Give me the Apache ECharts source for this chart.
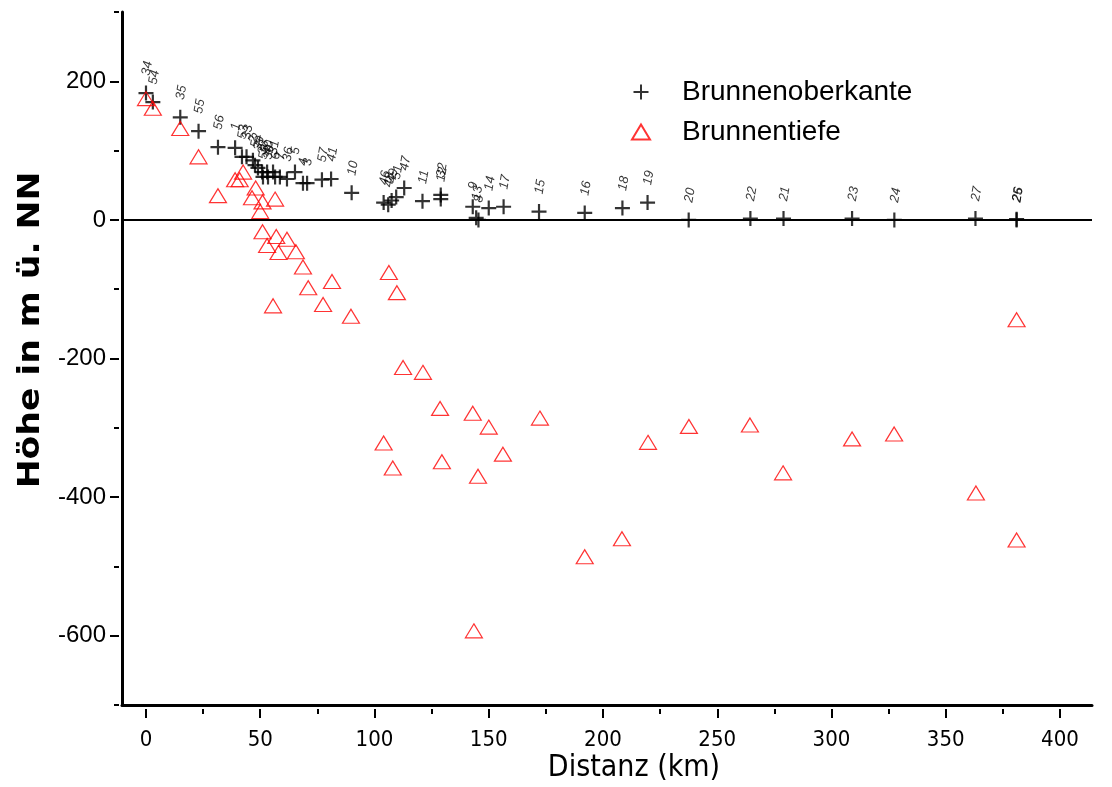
<!DOCTYPE html>
<html>
<head>
<meta charset="utf-8">
<script src="https://cdn.jsdelivr.net/npm/echarts@6/dist/echarts.min.js"></script>
<style>
html,body{margin:0;padding:0;background:#fff;}
#chart{width:1112px;height:787px;}
</style>
</head>
<body>
<div id="chart"></div>
<script>
// Brunnenoberkante (well top): distance km, height m, well number
const topX = [0, 3, 15, 23, 31.5, 39, 42, 44, 46.8, 47.7, 49, 50.8, 51.2, 53, 53.4, 55.6, 56.5, 58.6, 61.7, 65.2, 68.7, 70.5, 77, 81, 90, 104, 106, 107.5, 109.5, 113, 121, 129, 129, 143, 144.5, 145.5, 150, 156.5, 172, 192, 208.5, 219.5, 237.5, 264.5, 279, 309, 327.5, 363, 381, 381];
const topY = [183, 170, 148, 128, 105, 104, 91, 91, 86, 79, 75, 69, 62, 69, 62, 69, 62, 62, 59, 69, 53, 53, 58, 59, 39, 25, 22, 28, 33, 46, 27, 36, 30, 19, 3, 0, 17, 19, 12, 10, 17, 25, 0, 2, 2, 2, 0, 2, 0, 1];
const topLabels = ['34', '54', '35', '55', '56', '1', '53', '33', '2', '52', '39', '38', '50', '40', '30', '31', '6', '7', '36', '5', '4', '3', '57', '41', '10', '46', '48', '49', '51', '47', '11', '32', '12', '9', '13', '8', '14', '17', '15', '16', '18', '19', '20', '22', '21', '23', '24', '27', '25', '26'];

// Brunnentiefe (well depth): distance km, height m
const depthX = [0, 3, 15, 23, 31.5, 39, 41, 42.5, 46.4, 48, 51, 50, 56.5, 51, 53, 57, 61.7, 58, 65.6, 68.7, 81.4, 71, 55.6, 77.5, 89.7, 106.3, 109.8, 112.5, 121.2, 128.7, 143, 150, 172.4, 104, 108, 129.5, 156.2, 145.3, 143.5, 192, 208.3, 219.7, 237.6, 264.3, 278.8, 309, 327.4, 363.2, 381, 381];
const depthY = [175, 161, 132, 91, 35, 58, 58, 69, 32, 46, 26, 12, 30, -17, -37, -24, -28, -47, -46, -68, -89, -98, -124, -122, -139, -76, -105, -213, -220, -272, -279, -299, -286, -322, -358, -349, -338, -370, -593, -486, -460, -321, -298, -296, -365, -316, -309, -394, -144, -462];

const xMajorTicks = [0, 50, 100, 150, 200, 250, 300, 350, 400];
const xMinorTicks = [25, 75, 125, 175, 225, 275, 325, 375];
const yMajorTicks = [-600, -400, -200, 0, 200];
const yMinorTicks = [-700, -500, -300, -100, 100, 300];

const X_MIN = -10.5, X_MAX = 414, Y_MIN = -700, Y_MAX = 300;

const topData = topX.map((x, i) => ({ value: [x, topY[i]], name: topLabels[i] }));
const depthData = depthX.map((x, i) => [x, depthY[i]]);

const narrow = '"Liberation Sans Narrow", "DejaVu Sans Condensed", "Liberation Sans", sans-serif';
const sans = '"Liberation Sans", Arial, sans-serif';

const crossPath = 'path://M0,5 L10,5 M5,0 L5,10';

const chart = echarts.init(document.getElementById('chart'), null, { renderer: 'canvas' });

function xAx(extra) {
  return Object.assign({
    type: 'value', min: X_MIN, max: X_MAX, position: 'bottom',
    splitLine: { show: false },
    axisLine: { show: false, onZero: false },
    axisTick: { show: false },
    axisLabel: { show: false }
  }, extra);
}
function yAx(extra) {
  return Object.assign({
    type: 'value', min: Y_MIN, max: Y_MAX, position: 'left',
    splitLine: { show: false },
    axisLine: { show: false, onZero: false },
    axisTick: { show: false },
    axisLabel: { show: false }
  }, extra);
}

chart.setOption({
  animation: false,
  backgroundColor: '#fff',
  grid: { left: 122, right: 20, top: 12, bottom: 82, containLabel: false },
  xAxis: [
    xAx({ axisLine: { show: true, onZero: false, lineStyle: { color: '#000', width: 3 } } }),
    xAx({
      offset: 4,
      axisTick: { show: true, inside: false, length: 9, customValues: xMajorTicks, lineStyle: { color: '#000', width: 2 } },
      axisLabel: { show: true, customValues: xMajorTicks, margin: 20, color: '#000', fontSize: 22, fontFamily: narrow }
    }),
    xAx({
      offset: 4,
      axisTick: { show: true, inside: false, length: 5, customValues: xMinorTicks, lineStyle: { color: '#000', width: 2 } }
    })
  ],
  yAxis: [
    yAx({ axisLine: { show: true, onZero: false, lineStyle: { color: '#000', width: 3 } } }),
    yAx({
      offset: 3,
      axisTick: { show: true, inside: false, length: 9, customValues: yMajorTicks, lineStyle: { color: '#000', width: 2 } },
      axisLabel: { show: true, customValues: yMajorTicks, margin: 13, color: '#000', fontSize: 24, fontFamily: sans }
    }),
    yAx({
      offset: 3,
      axisTick: { show: true, inside: false, length: 5, customValues: yMinorTicks, lineStyle: { color: '#000', width: 2 } }
    })
  ],
  legend: {
    orient: 'vertical',
    left: 626,
    top: 73,
    itemWidth: 18,
    itemHeight: 15,
    itemGap: 12,
    textStyle: { fontSize: 28, fontFamily: sans, color: '#000', padding: [0, 0, 0, 27] },
    data: ['Brunnenoberkante', 'Brunnentiefe']
  },
  graphic: [
    {
      type: 'text',
      style: { text: 'Höhe in m ü. NN', fontSize: 30, fontWeight: 'bold', fontFamily: narrow, fill: '#000', textAlign: 'center', textVerticalAlign: 'middle' },
      x: 31, y: 330, rotation: Math.PI / 2, scaleX: 1.28
    },
    {
      type: 'text',
      style: { text: 'Distanz (km)', fontSize: 30, fontFamily: narrow, fill: '#000', textAlign: 'center', textVerticalAlign: 'middle' },
      x: 634, y: 768
    }
  ],
  series: [
    {
      name: 'Brunnenoberkante',
      type: 'scatter',
      xAxisIndex: 0, yAxisIndex: 0,
      symbol: crossPath,
      symbolSize: 15,
      itemStyle: { color: '#000', borderColor: '#000', borderWidth: 2.2 },
      label: {
        show: true, position: 'top', distance: 9, rotate: 80,
        align: 'left', verticalAlign: 'middle',
        formatter: p => p.name,
        fontSize: 13, fontStyle: 'italic', fontFamily: sans, color: '#000'
      },
      labelLayout: { hideOverlap: false },
      data: topData,
      markLine: {
        silent: true, symbol: 'none', label: { show: false },
        lineStyle: { color: '#000', width: 2, type: 'solid' },
        data: [{ yAxis: 0 }]
      },
      z: 3
    },
    {
      name: 'Brunnentiefe',
      type: 'scatter',
      xAxisIndex: 0, yAxisIndex: 0,
      symbol: 'triangle',
      symbolSize: [17, 14],
      itemStyle: { color: 'rgba(255,255,255,0)', borderColor: '#ff0000', borderWidth: 1.2 },
      data: depthData,
      z: 4
    }
  ]
});
</script>
</body>
</html>
